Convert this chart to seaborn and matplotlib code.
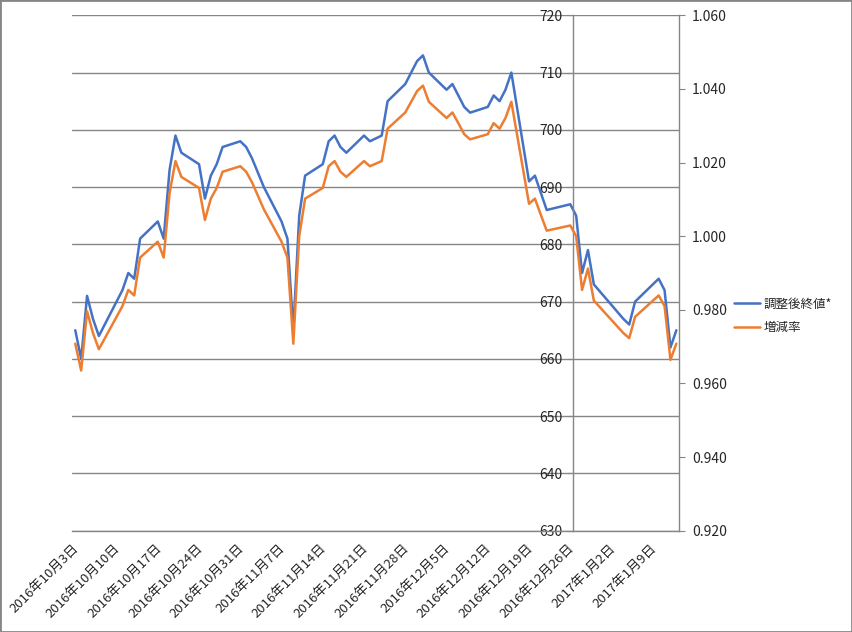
import pandas as pd
import seaborn as sns
import matplotlib.pyplot as plt
import matplotlib.dates as mdates
from matplotlib.patches import Rectangle

# --- DATA ---
DATES = [
    "2016-10-03", "2016-10-04", "2016-10-05", "2016-10-06", "2016-10-07",
    "2016-10-11", "2016-10-12", "2016-10-13", "2016-10-14",
    "2016-10-17", "2016-10-18", "2016-10-19", "2016-10-20", "2016-10-21",
    "2016-10-24", "2016-10-25", "2016-10-26", "2016-10-27", "2016-10-28",
    "2016-10-31", "2016-11-01", "2016-11-02", "2016-11-04",
    "2016-11-07", "2016-11-08", "2016-11-09", "2016-11-10", "2016-11-11",
    "2016-11-14", "2016-11-15", "2016-11-16", "2016-11-17", "2016-11-18",
    "2016-11-21", "2016-11-22", "2016-11-24", "2016-11-25",
    "2016-11-28", "2016-11-29", "2016-11-30", "2016-12-01", "2016-12-02",
    "2016-12-05", "2016-12-06", "2016-12-07", "2016-12-08", "2016-12-09",
    "2016-12-12", "2016-12-13", "2016-12-14", "2016-12-15", "2016-12-16",
    "2016-12-19", "2016-12-20", "2016-12-21", "2016-12-22",
    "2016-12-26", "2016-12-27", "2016-12-28", "2016-12-29", "2016-12-30",
    "2017-01-04", "2017-01-05", "2017-01-06",
    "2017-01-10", "2017-01-11", "2017-01-12", "2017-01-13",
]
CLOSE = [
    665, 660, 671, 667, 664,
    672, 675, 674, 681,
    684, 681, 693, 699, 696,
    694, 688, 692, 694, 697,
    698, 697, 695, 690,
    684, 681, 665, 685, 692,
    694, 698, 699, 697, 696,
    699, 698, 699, 705,
    708, 710, 712, 713, 710,
    707, 708, 706, 704, 703,
    704, 706, 705, 707, 710,
    691, 692, 689, 686,
    687, 685, 675, 679, 673,
    667, 666, 670,
    674, 672, 662, 665,
]
RATIO = [
    0.9708, 0.9635, 0.9796, 0.9737, 0.9693,
    0.9810, 0.9854, 0.9839, 0.9942,
    0.9985, 0.9942, 1.0117, 1.0204, 1.0161,
    1.0131, 1.0044, 1.0102, 1.0131, 1.0175,
    1.0190, 1.0175, 1.0146, 1.0073,
    0.9985, 0.9942, 0.9708, 1.0000, 1.0102,
    1.0131, 1.0190, 1.0204, 1.0175, 1.0161,
    1.0204, 1.0190, 1.0204, 1.0292,
    1.0336, 1.0365, 1.0394, 1.0409, 1.0365,
    1.0321, 1.0336, 1.0307, 1.0277, 1.0263,
    1.0277, 1.0307, 1.0292, 1.0321, 1.0365,
    1.0088, 1.0102, 1.0058, 1.0015,
    1.0029, 1.0000, 0.9854, 0.9912, 0.9825,
    0.9737, 0.9723, 0.9781,
    0.9839, 0.9810, 0.9664, 0.9708,
]
SERIES_NAMES = ["調整後終値*", "増減率"]
LEFT_TICKS = [630, 640, 650, 660, 670, 680, 690, 700, 710, 720]
RIGHT_TICKS = [0.92, 0.94, 0.96, 0.98, 1.00, 1.02, 1.04, 1.06]
WEEK_TICKS = pd.date_range("2016-10-03", "2017-01-09", freq="7D")

BLUE = "#4472C4"
ORANGE = "#ED7D31"
GRID = "#868686"

sns.set_style("white")
plt.rcParams["font.family"] = ["Noto Sans CJK JP", "DejaVu Sans"]

df = pd.DataFrame({"date": pd.to_datetime(DATES), "close": CLOSE, "ratio": RATIO})
# Excel date axis: each point sits in the middle of its day slot
df["x"] = df["date"] + pd.Timedelta(hours=12)

fig = plt.figure(figsize=(8.52, 6.32), dpi=100)
ax = fig.add_axes([0.0849, 0.1603, 0.7124, 0.8155])
ax2 = ax.twinx()

sns.lineplot(data=df, x="x", y="close", ax=ax, color=BLUE, lw=1.8, label=SERIES_NAMES[0])
sns.lineplot(data=df, x="x", y="ratio", ax=ax2, color=ORANGE, lw=1.8, label=SERIES_NAMES[1])

# left axis (crosses the date axis at 2016-12-27)
ax.set_ylim(630, 720)
ax.set_yticks(LEFT_TICKS)
ax.set_xlim(pd.Timestamp("2016-10-03"), pd.Timestamp("2017-01-14"))
ax.set_xticks(WEEK_TICKS)
ax.set_xticklabels([f"{d.year}年{d.month}月{d.day}日" for d in WEEK_TICKS],
                   rotation=45, ha="right", rotation_mode="anchor", fontsize=9.5)
ax.grid(axis="y", color=GRID, lw=1)
ax.set_axisbelow(True)
ax.spines["left"].set_position(("data", mdates.date2num(pd.Timestamp("2016-12-27"))))
for s in ["top", "right"]:
    ax.spines[s].set_visible(False)
for s in ["left", "bottom"]:
    ax.spines[s].set_color(GRID)
    ax.spines[s].set_linewidth(1)
ax.tick_params(axis="y", length=4, color=GRID, labelsize=10, pad=4)
ax.tick_params(axis="x", length=4, color=GRID, pad=4)
ax.set_xlabel("")
ax.set_ylabel("")

# right axis
ax2.set_ylim(0.92, 1.06)
ax2.set_yticks(RIGHT_TICKS)
ax2.set_yticklabels([f"{v:.3f}" for v in RIGHT_TICKS])
for s in ["top", "left", "bottom"]:
    ax2.spines[s].set_visible(False)
ax2.spines["right"].set_color(GRID)
ax2.spines["right"].set_linewidth(1)
ax2.tick_params(axis="y", length=4, color=GRID, labelsize=10, pad=5)
ax2.set_ylabel("")

# legend on the right
h1, l1 = ax.get_legend_handles_labels()
h2, l2 = ax2.get_legend_handles_labels()
ax.get_legend().remove()
ax2.get_legend().remove()
fig.legend(h1 + h2, l1 + l2, loc="center left", bbox_to_anchor=(0.848, 0.5),
           frameon=False, fontsize=9, handlelength=2.1, handletextpad=0.3,
           labelspacing=0.85)

# chart area border
fig.add_artist(Rectangle((0, 0), 1, 1, transform=fig.transFigure, fill=False,
                         edgecolor=GRID, lw=2))

plt.savefig("out.png", dpi=100)
